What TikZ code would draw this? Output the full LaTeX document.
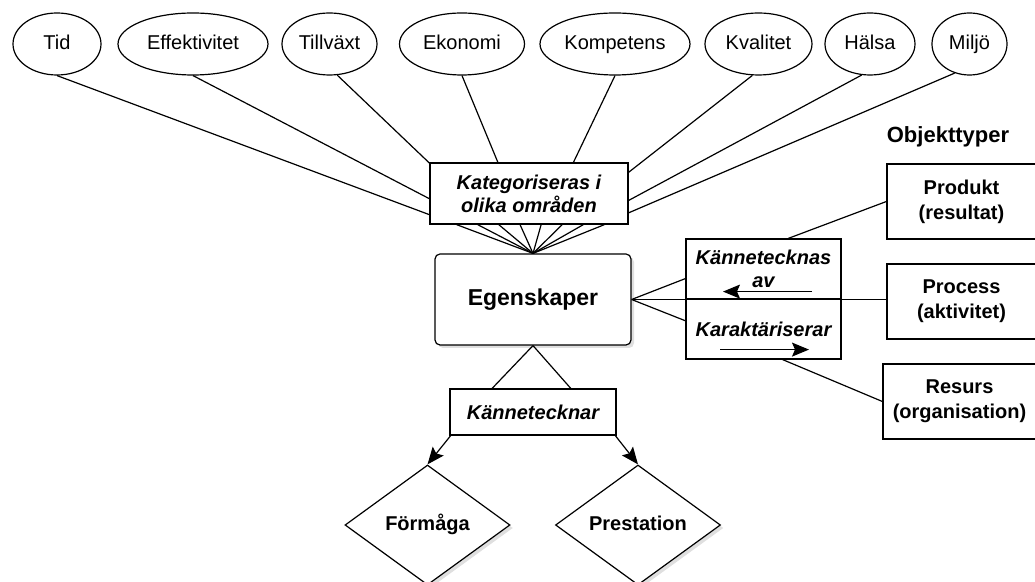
\documentclass[tikz,border=0pt]{standalone}
\usepackage{fontspec}
\setmainfont{Liberation Sans}
\usetikzlibrary{positioning,arrows.meta,calc,shapes.geometric,shadows}

\begin{document}
\begin{tikzpicture}[x=0.5pt, y=-0.5pt, >={Stealth[length=8.5pt,width=7pt,inset=1.5pt]}, line width=0.6pt,
  area/.style={draw, ellipse, inner sep=0pt, minimum height=31pt, text height=7.5pt, text depth=2pt,
    font=\fontsize{10}{12}\selectfont},
  relbox/.style={draw, rectangle, fill=white, inner sep=2pt, align=center, font=\fontsize{10}{11.5}\selectfont\bfseries\itshape},
  objbox/.style={draw, rectangle, minimum height=37.5pt, align=center, font=\fontsize{10}{12.5}\selectfont\bfseries},
  kind/.style={draw, diamond, aspect=1.4, fill=white, minimum width=82.5pt, minimum height=60pt, inner sep=0pt,
    text height=7.5pt, text depth=2pt, font=\fontsize{10}{12}\selectfont\bfseries,
    drop shadow={shadow xshift=1.5pt, shadow yshift=-1.5pt, opacity=0.25}}]
  \useasboundingbox (0,0) rectangle (1035,582);
  \clip (0,0) rectangle (1035,582);

  \node[area, minimum width=44pt] (tid) at (57,44) {Tid};
  \node[area, minimum width=75pt] (effekt) at (193,44) {Effektivitet};
  \node[area, minimum width=47.5pt] (tillvaxt) at (329.5,44) {Tillväxt};
  \node[area, minimum width=62.5pt] (ekonomi) at (462,44) {Ekonomi};
  \node[area, minimum width=75pt] (kompetens) at (615,44) {Kompetens};
  \node[area, minimum width=53.5pt] (kvalitet) at (758.5,44) {Kvalitet};
  \node[area, minimum width=45pt] (halsa) at (870,44) {Hälsa};
  \node[area, minimum width=37.5pt] (miljo) at (969.5,44) {Miljö};

  \node[relbox, minimum width=99pt, minimum height=30.5pt] (kat) at (529,193.5) {Kategoriseras i\\olika områden};
  \node[draw, rounded corners=2.5pt, fill=white, minimum width=98pt, minimum height=45.5pt,
    text height=8.5pt, text depth=2.5pt, font=\fontsize{11.5}{14}\selectfont\bfseries,
    drop shadow={shadow xshift=1.5pt, shadow yshift=-1.5pt, opacity=0.25}] (egen) at (533,299.5) {Egenskaper};

  \node[relbox, minimum width=77.5pt, minimum height=30pt] (kav) at (763.5,269) {Kännetecknas\\av};
  \node[relbox, minimum width=77.5pt, minimum height=30pt] (kar) at (763.5,329) {Karaktäriserar};

  \node[font=\fontsize{11}{13}\selectfont\bfseries] (objtitle) at (948,137) {Objekttyper};
  \node[objbox, minimum width=74.5pt] (prod) at (961.5,201.5) {Produkt\\(resultat)};
  \node[objbox, minimum width=74.5pt] (proc) at (961.5,301.5) {Process\\(aktivitet)};
  \node[objbox, minimum width=76.5pt] (res) at (959.5,401.5) {Resurs\\(organisation)};

  \node[relbox, minimum width=83pt, minimum height=23pt] (knr) at (533,412) {Kännetecknar};
  \node[kind] (form) at (427.5,525) {Förmåga};
  \node[kind] (prest) at (638,525) {Prestation};

  \draw (tid.south) -- (kat.192);
  \draw (effekt.south) -- (kat.183);
  \draw (tillvaxt.284) -- (kat.163);
  \draw (ekonomi.south) -- (kat.135);
  \draw (kompetens.south) -- (kat.35);
  \draw (kvalitet.259) -- (kat.12);
  \draw (halsa.255) -- (kat.356);
  \draw (miljo.243) -- (kat.349);
  \foreach \f in {0.136,0.242,0.348,0.455,0.561,0.667,0.773,0.879}
    \draw ($(kat.south west)!\f!(kat.south east)$) -- (egen.north);

  \draw (egen.east) -- (kav.187);
  \draw (egen.east) -- (egen.east -| proc.west);
  \draw (egen.east) -- (kar.174);
  \draw (kav.51) -- (prod.west);
  \draw (kar.302) -- (res.west);
  \draw[->] ($(kav.south)+(48.5,-8)$) -- ($(kav.south)+(-40.5,-8)$);
  \draw[->] ($(kar.south)+(-43.5,-10)$) -- ($(kar.south)+(45.5,-10)$);

  \draw (egen.south) -- (knr.150);
  \draw (egen.south) -- (knr.32);
  \draw[->] (knr.196) -- (form.north);
  \draw[->] (knr.344) -- (prest.north);
\end{tikzpicture}
\end{document}
